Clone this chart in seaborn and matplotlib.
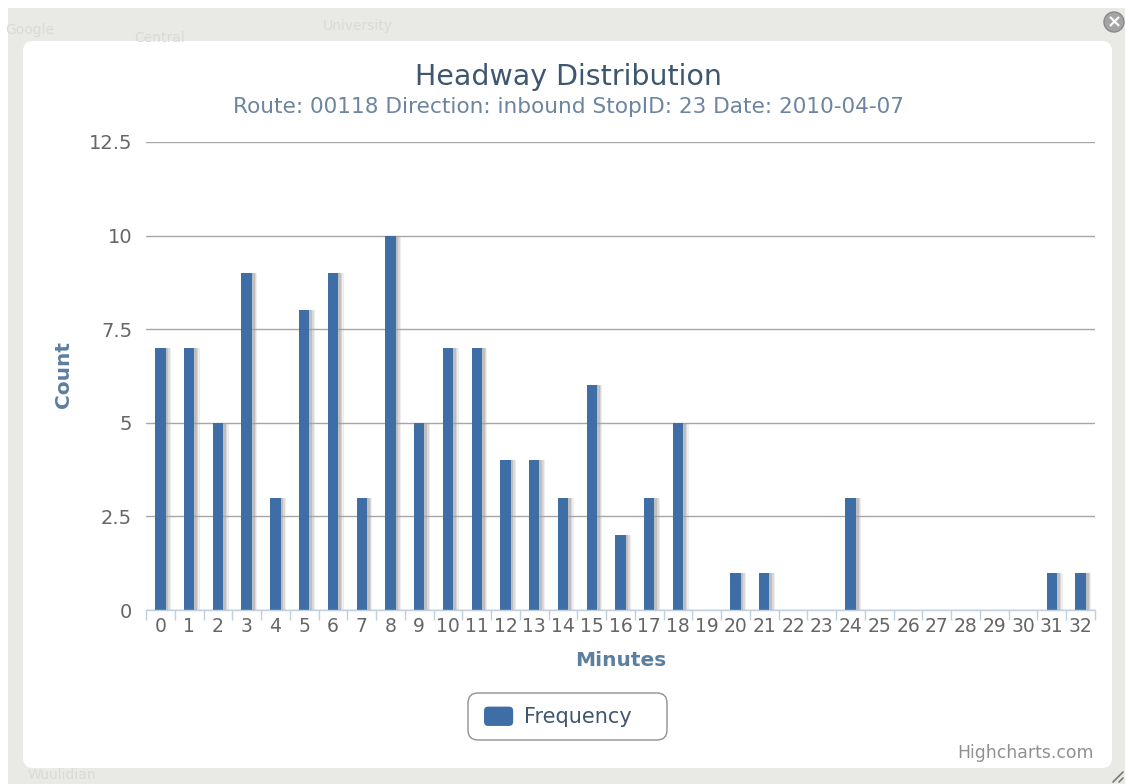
import matplotlib
matplotlib.use("Agg")
import matplotlib.pyplot as plt
import matplotlib.patheffects as pe
from matplotlib.legend_handler import HandlerPatch
from matplotlib.patches import FancyBboxPatch, Circle, Rectangle
import pandas as pd
import seaborn as sns

minutes = [str(m) for m in range(33)]
counts = [7, 7, 5, 9, 3, 8, 9, 3, 10, 5, 7, 7, 4, 4, 3, 6, 2, 3, 5, 0, 1, 1, 0, 0, 3, 0, 0, 0, 0, 0, 0, 1, 1]
y_ticks = [0, 2.5, 5, 7.5, 10, 12.5]
y_labels = ["0", "2.5", "5", "7.5", "10", "12.5"]
map_labels = [("Central", 160, 38), ("University", 358, 26), ("Wuulidian", 62, 775), ("Google", 30, 30)]

W, H = 1125, 784
BAR_COLOR = "#3F6EA6"
df = pd.DataFrame({"Minutes": minutes, "Count": counts})


class RoundSwatch(HandlerPatch):
    # legend key with rounded corners like the highcharts one
    def create_artists(self, legend, orig_handle, xdescent, ydescent, width, height, fontsize, trans):
        p = FancyBboxPatch((-xdescent + 2, -ydescent + 2), width - 4, height - 4,
                           boxstyle="round,pad=2,rounding_size=3", fc=BAR_COLOR, ec="none", transform=trans)
        return [p]


sns.set_theme(style="white")
plt.rcParams["font.family"] = ["DejaVu Sans"]
fig = plt.figure(figsize=(W / 100, H / 100), dpi=100, facecolor="white")

# page behind the popup, in pixel coordinates
bg = fig.add_axes([0, 0, 1, 1], zorder=0)
bg.set_xlim(0, W)
bg.set_ylim(H, 0)
bg.axis("off")
bg.add_patch(Rectangle((8, 8), W - 8, H - 8, fc="#e9e9e5", ec="none"))
for txt, x, y in map_labels:
    bg.text(x, y, txt, fontsize=10, color="#dadad6", ha="center", va="center")
bg.add_patch(FancyBboxPatch((31, 49), 1073, 711, boxstyle="round,pad=8,rounding_size=10", fc="white", ec="none"))
bg.add_patch(Circle((1114, 22), 10, fc="#a4a4a4", ec="#8a8a8a", lw=1))
bg.text(1114, 22, "×", fontsize=13, color="white", ha="center", va="center", fontweight="bold")
bg.plot([1113, 1123], [782, 772], color="#777777", lw=1.2)
bg.plot([1119, 1123], [782, 778], color="#777777", lw=1.2)
# legend box
bg.add_patch(FancyBboxPatch((476, 701), 183, 31, boxstyle="round,pad=8,rounding_size=10", fc="white", ec="#909090", lw=1))

# plot area 146..1095 x 142..610 px
ax = fig.add_axes([146 / W, 1 - 610 / H, 949 / W, 468 / H], zorder=1)
ax.patch.set_alpha(0)
sns.barplot(data=df, x="Minutes", y="Count", color=BAR_COLOR, saturation=1, width=0.36, linewidth=0,
            label="Frequency", ax=ax)
for bar in ax.patches:
    bar.set_path_effects([
        pe.SimplePatchShadow(offset=(4, 0), shadow_rgbFace="#aaaaaa", alpha=0.2),
        pe.SimplePatchShadow(offset=(3, 0), shadow_rgbFace="#aaaaaa", alpha=0.3),
        pe.SimplePatchShadow(offset=(2, 0), shadow_rgbFace="#999999", alpha=0.4),
        pe.Normal(),
    ])

ax.set_xlim(-0.5, 32.5)
ax.set_ylim(0, 12.5)
ax.set_yticks(y_ticks)
ax.set_yticklabels(y_labels)
ax.set_axisbelow(True)
ax.grid(axis="y", color="#a6a6a6", lw=1)
ax.grid(axis="x", visible=False)
sns.despine(ax=ax, left=True, top=True, right=True)
ax.spines["bottom"].set_color("#C0D0E0")
ax.spines["bottom"].set_linewidth(1)
ax.set_xticks([i - 0.5 for i in range(34)], minor=True)
ax.tick_params(axis="x", which="minor", length=7, width=1, color="#C0D0E0", bottom=True)
ax.tick_params(axis="x", which="major", length=0, pad=5, labelsize=13.5, labelcolor="#666666")
ax.tick_params(axis="y", length=0, pad=10, labelsize=14, labelcolor="#666666")
ax.set_xlabel("")
ax.set_ylabel("")

fig.text(568 / W, 1 - 77 / H, "Headway Distribution", ha="center", va="center", fontsize=20.5, color="#3E576F")
fig.text(568 / W, 1 - 107 / H, "Route: 00118 Direction: inbound StopID: 23 Date: 2010-04-07",
         ha="center", va="center", fontsize=15.6, color="#6D869F")
fig.text(621 / W, 1 - 661 / H, "Minutes", ha="center", va="center", fontsize=14.5, fontweight="bold", color="#5b7f9f")
fig.text(63 / W, 1 - 374 / H, "Count", ha="center", va="center", rotation=90, fontsize=14.5, fontweight="bold", color="#5b7f9f")
fig.text(1094 / W, 1 - 753 / H, "Highcharts.com", ha="right", va="center", fontsize=12.4, color="#909090")

handles, labels = ax.get_legend_handles_labels()
leg = ax.legend(handles, labels, loc="center left", bbox_to_anchor=(484 / W, 1 - 717 / H), bbox_transform=fig.transFigure,
                frameon=False, fontsize=15, labelcolor="#3E576F", handlelength=1.4, handleheight=1.05,
                borderpad=0, borderaxespad=0, handletextpad=0.5, handler_map={handles[0]: RoundSwatch()})

fig.savefig("out.png", dpi=100)
